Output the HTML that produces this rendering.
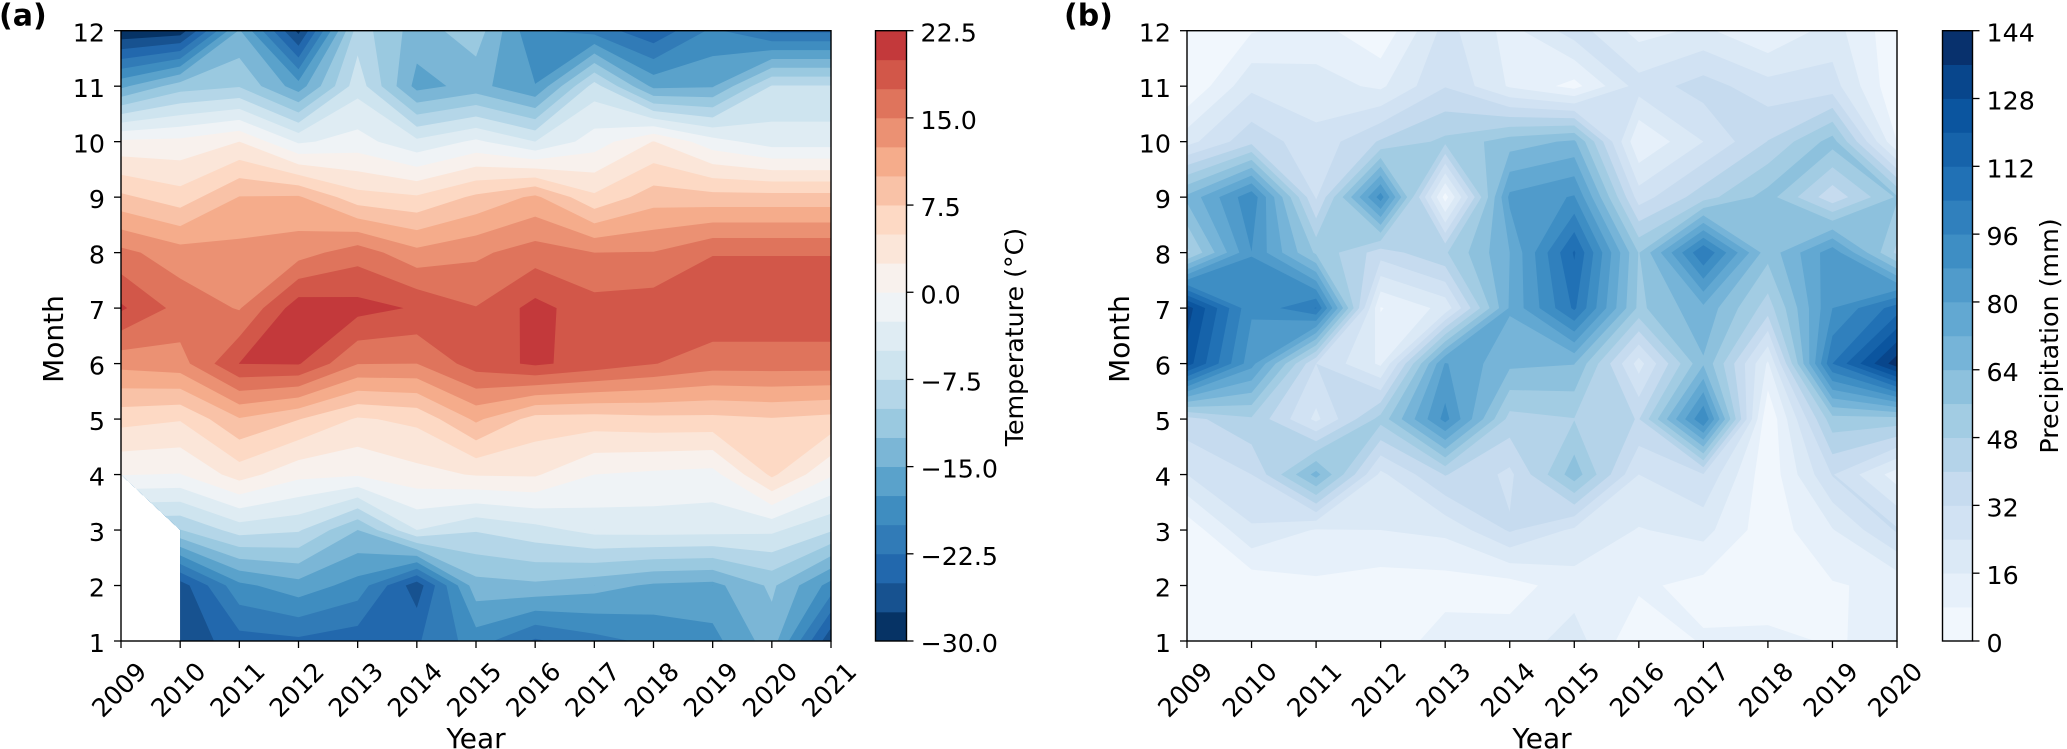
<!DOCTYPE html>
<html lang="en">
<head>
<meta charset="utf-8">
<title>Monthly temperature and precipitation contour maps</title>
<style>
html,body{margin:0;padding:0;background:#fff;}
body{width:2067px;height:749px;overflow:hidden;}
svg{display:block;}
text{font-family:"DejaVu Sans","Liberation Sans",sans-serif;fill:#000;}
.tick{font-size:25.3px;}
.axis-title{font-size:28px;}
.cb-title{font-size:25.3px;}
.panel-tag{font-size:30px;font-weight:bold;}
</style>
</head>
<body>
<svg id="figure" width="2067" height="749" viewBox="0 0 2067 749" xmlns="http://www.w3.org/2000/svg">
  <rect x="0" y="0" width="2067" height="749" fill="#fff"/>
  <g id="panel-a">
    <text class="panel-tag" x="-1" y="25.5">(a)</text>
    <text class="axis-title" transform="translate(63,339) rotate(-90)" text-anchor="middle">Month</text>
    <text class="axis-title" x="476" y="748" text-anchor="middle">Year</text>
    <text class="cb-title" transform="translate(1023,337) rotate(-90)" text-anchor="middle">Temperature (°C)</text>
  </g>
  <g id="panel-b">
    <text class="panel-tag" x="1064" y="25.5">(b)</text>
    <text class="axis-title" transform="translate(1129,339) rotate(-90)" text-anchor="middle">Month</text>
    <text class="axis-title" x="1542" y="748" text-anchor="middle">Year</text>
    <text class="cb-title" transform="translate(2058,336) rotate(-90)" text-anchor="middle">Precipitation (mm)</text>
  </g>
</svg>
<script>
// ---------- shared categories ----------
const months = [1,2,3,4,5,6,7,8,9,10,11,12];
const monthLabels = ['1','2','3','4','5','6','7','8','9','10','11','12'];

// ---------- panel (a): temperature, one array per year, month 1..12 ----------
const tempYears = [2009,2010,2011,2012,2013,2014,2015,2016,2017,2018,2019,2020,2021];
const temp2009 = [null,null,null,0.1,5.9,13.3,20.4,15.7,8.05,0.5,-15.6,-29.7];
const temp2010 = [-27,-26.3,-10.1,-0.1,5.2,14,16.6,13.6,6.05,0.7,-11.2,-29];
const temp2011 = [-23.5,-18.15,-6.4,3.6,9.8,20.05,14.8,13.3,10.1,2.5,-10.2,-14.7];
const temp2012 = [-23,-16,-7.2,0.7,7.6,20.2,21.5,13.9,10.3,-2.9,-16.4,-28.2];
const temp2013 = [-24,-18.5,-12.5,0.3,4.7,15.1,20.9,16.4,6,-1.5,-6,-8.7];
const temp2014 = [-22.8,-26.5,-5,1.7,5.6,15,19.74,13.2,5.3,-4.4,-15.9,-13.7];
const temp2015 = [-18.8,-13.5,-7.3,2.7,10.5,18.7,17.6,14.5,8,-2,-14.1,-11.1];
const temp2016 = [-22.9,-13,-5.9,2.8,6.5,20.45,20.85,16.2,10.5,-5,-17.4,-19.8];
const temp2017 = [-20.9,-14,-4.2,0,6.4,19,18.5,15,5.5,-1.3,-6.4,-21];
const temp2018 = [-19.4,-15.4,-4,-0.5,6.8,17.6,18.9,15.1,8.8,2.6,-15.7,-24.5];
const temp2019 = [-18.3,-15.8,-4.1,-0.9,6.8,16.2,19.5,17.37,8.4,-1.5,-15.25,-19.4];
const temp2020 = [-13.7,-12,-4.5,5.5,7.3,16.2,19.5,17.37,8.4,-3.7,-7.3,-23];
const temp2021 = [-27,-18.5,-7.2,0.3,6.7,16.2,19.5,17.37,8.4,-3.7,-7.3,-23];
const tempColumns = [temp2009,temp2010,temp2011,temp2012,temp2013,temp2014,temp2015,temp2016,temp2017,temp2018,temp2019,temp2020,temp2021];
const tempLevels = [-30,-27.5,-25,-22.5,-20,-17.5,-15,-12.5,-10,-7.5,-5,-2.5,0,2.5,5,7.5,10,12.5,15,17.5,20,22.5];
const tempTicks = [-30,-22.5,-15,-7.5,0,7.5,15,22.5];
const tempTickLabels = ['\u221230.0','\u221222.5','\u221215.0','\u22127.5','0.0','7.5','15.0','22.5'];

// ---------- panel (b): precipitation, one array per year, month 1..12 ----------
const precYears = [2009,2010,2011,2012,2013,2014,2015,2016,2017,2018,2019,2020];
const prec2009 = [1,1,2.5,24,37,124,132,46,66,21,0,0];
const prec2010 = [2,2,22.9,32,46.8,83,89.3,87.9,94,37.5,22.2,7.3];
const prec2011 = [3,6.5,15.4,67,22,32,104.5,54.5,31,26.5,19.3,11];
const prec2012 = [2,4,16,22,51,14.5,7.5,36,92,41,14.5,1.5];
const prec2013 = [12,4.3,18,40.5,91,80.7,18.5,47,4.5,50,31.6,27];
const prec2014 = [11.3,4.5,33,30,45,66,73,72,82,60,15,13];
const prec2015 = [19.6,12.5,22.5,60.7,47.7,64.3,105.5,113,88.8,65.5,5.2,28];
const prec2016 = [1.5,9.5,15.5,24,39.5,20.5,54,55.5,28,8.5,27.5,13];
const prec2017 = [8.8,5.4,18.8,31.5,96,63,70,104,44.4,24,35.5,17.7];
const prec2018 = [10.4,2,3,2,0.5,14.8,44,59,59.5,40.3,27.1,8.5];
const prec2019 = [7.1,7.3,15.5,32.5,53,104,88,85,34.5,59.5,27.5,19.5];
const prec2020 = [11,10,33,12,53,141,108,46,57,8,1,2];
const precColumns = [prec2009,prec2010,prec2011,prec2012,prec2013,prec2014,prec2015,prec2016,prec2017,prec2018,prec2019,prec2020];
const precLevels = [0,8,16,24,32,40,48,56,64,72,80,88,96,104,112,120,128,136,144];
const precTicks = [0,16,32,48,64,80,96,112,128,144];
const precTickLabels = ['0','16','32','48','64','80','96','112','128','144'];

// ---------- colour maps ----------
const rdBuR = ['#053061','#2166ac','#4393c3','#92c5de','#d1e5f0','#f7f7f7','#fddbc7','#f4a582','#d6604d','#b2182b','#67001f'];
const blues = ['#f7fbff','#deebf7','#c6dbef','#9ecae1','#6baed6','#4292c6','#2171b5','#08519c','#08306b'];

function sampleMap(stops, t) {
  const p = Math.max(0, Math.min(1, t)) * (stops.length - 1);
  const i = Math.min(stops.length - 2, Math.floor(p));
  const f = p - i;
  const ch = (hex, k) => parseInt(hex.substr(1 + 2 * k, 2), 16);
  const out = [0, 1, 2].map(k => Math.round(ch(stops[i], k) * (1 - f) + ch(stops[i + 1], k) * f));
  return 'rgb(' + out.join(',') + ')';
}

function linearScale(d0, d1, r0, r1) {
  return v => r0 + (v - d0) / (d1 - d0) * (r1 - r0);
}

// keep the part of a cell polygon where value >= level (edge crossings joined by straight chords)
function clipAbove(poly, level) {
  const out = [];
  for (let i = 0; i < poly.length; i++) {
    const a = poly[i];
    const b = poly[(i + 1) % poly.length];
    const aIn = a.v >= level;
    const bIn = b.v >= level;
    if (aIn) out.push(a);
    if (aIn !== bIn) {
      const f = (level - a.v) / (b.v - a.v);
      out.push({x: a.x + (b.x - a.x) * f, y: a.y + (b.y - a.y) * f, v: level});
    }
  }
  return out;
}

function cellPolygon(columns, xs, ys, c, r) {
  const corners = [[c, r], [c + 1, r], [c + 1, r + 1], [c, r + 1]];
  const pts = [];
  corners.forEach(function (k) {
    const v = columns[k[0]][k[1]];
    if (v !== null) pts.push({x: xs(k[0]), y: ys(months[k[1]]), v: v});
  });
  return pts.length >= 3 ? pts : null;
}

function levelPath(columns, xs, ys, level) {
  let d = '';
  for (let c = 0; c < columns.length - 1; c++) {
    for (let r = 0; r < months.length - 1; r++) {
      const cell = cellPolygon(columns, xs, ys, c, r);
      if (!cell) continue;
      const poly = clipAbove(cell, level);
      if (poly.length < 3) continue;
      d += 'M' + poly.map(p => p.x.toFixed(2) + ' ' + p.y.toFixed(2)).join('L') + 'Z';
    }
  }
  return d;
}

const SVG_NS = 'http://www.w3.org/2000/svg';

function drawLine(parent, x1, y1, x2, y2, name) {
  const el = document.createElementNS(SVG_NS, 'line');
  el.setAttribute('x1', x1);
  el.setAttribute('y1', y1);
  el.setAttribute('x2', x2);
  el.setAttribute('y2', y2);
  el.setAttribute('stroke', '#000');
  el.setAttribute('stroke-width', '1.3');
  
  
  parent.appendChild(el);
}

function drawLabel(parent, x, y, str, anchor, name, transform) {
  const el = document.createElementNS(SVG_NS, 'text');
  el.setAttribute('class', 'tick');
  el.setAttribute('text-anchor', anchor);
  if (transform) {
    el.setAttribute('transform', transform);
  } else {
    el.setAttribute('x', x);
    el.setAttribute('y', y);
  }
  
  
  el.textContent = str;
  parent.appendChild(el);
}

function drawFrame(parent, x, y, w, h, name) {
  const el = document.createElementNS(SVG_NS, 'rect');
  el.setAttribute('x', x);
  el.setAttribute('y', y);
  el.setAttribute('width', w);
  el.setAttribute('height', h);
  el.setAttribute('fill', 'none');
  el.setAttribute('stroke', '#000');
  el.setAttribute('stroke-width', '1.4');
  
  
  parent.appendChild(el);
}

function drawPanel(cfg) {
  const g = document.getElementById(cfg.group);
  const xs = linearScale(0, cfg.years.length - 1, cfg.left, cfg.right);
  const ys = linearScale(months[0], months[months.length - 1], cfg.bottom, cfg.top);
  const cbY = linearScale(cfg.levels[0], cfg.levels[cfg.levels.length - 1], cfg.bottom, cfg.top);

  // filled contours: each level paints everything at or above it
  for (let i = 0; i < cfg.levels.length - 1; i++) {
    const mid = (cfg.levels[i] + cfg.levels[i + 1]) / 2;
    const band = document.createElementNS(SVG_NS, 'path');
    band.setAttribute('d', levelPath(cfg.columns, xs, ys, cfg.levels[i]));
    band.setAttribute('fill', cfg.color(mid));
    
    
    g.appendChild(band);

    const swatch = document.createElementNS(SVG_NS, 'rect');
    swatch.setAttribute('x', cfg.cbLeft);
    swatch.setAttribute('y', cbY(cfg.levels[i + 1]));
    swatch.setAttribute('width', cfg.cbRight - cfg.cbLeft);
    swatch.setAttribute('height', cbY(cfg.levels[i]) - cbY(cfg.levels[i + 1]) + 0.4);
    swatch.setAttribute('fill', cfg.color(mid));
    
    
    g.appendChild(swatch);
  }

  drawFrame(g, cfg.left, cfg.top, cfg.right - cfg.left, cfg.bottom - cfg.top, 'plot-frame');
  drawFrame(g, cfg.cbLeft, cfg.top, cfg.cbRight - cfg.cbLeft, cfg.bottom - cfg.top, 'colorbar-frame');

  months.forEach(function (m, i) {
    const y = ys(m);
    drawLine(g, cfg.left - 7, y, cfg.left, y, 'y-tick');
    drawLabel(g, cfg.left - 16, y + 11, monthLabels[i], 'end', 'y-tick-label');
  });

  cfg.years.forEach(function (yr, i) {
    const x = xs(i);
    drawLine(g, x, cfg.bottom, x, cfg.bottom + 7, 'x-tick');
    const t = 'translate(' + (x - 2) + ',689.5) rotate(-45) translate(0,9)';
    drawLabel(g, 0, 0, String(yr), 'middle', 'x-tick-label', t);
  });

  cfg.ticks.forEach(function (tk, i) {
    const y = cbY(tk);
    drawLine(g, cfg.cbRight, y, cfg.cbRight + 7, y, 'colorbar-tick');
    drawLabel(g, cfg.cbRight + 14, y + 11, cfg.tickLabels[i], 'start', 'colorbar-tick-label');
  });
}

drawPanel({
  group: 'panel-a',
  years: tempYears,
  columns: tempColumns,
  levels: tempLevels,
  ticks: tempTicks,
  tickLabels: tempTickLabels,
  color: v => sampleMap(rdBuR, v < -27.5 ? 0.005 : (v + 30) / 60),
  left: 121, right: 831, top: 30.7, bottom: 641,
  cbLeft: 875.5, cbRight: 906.5
});

drawPanel({
  group: 'panel-b',
  years: precYears,
  columns: precColumns,
  levels: precLevels,
  ticks: precTicks,
  tickLabels: precTickLabels,
  color: v => sampleMap(blues, v > 136 ? 0.995 : v / 144),
  left: 1187, right: 1897, top: 30.7, bottom: 641,
  cbLeft: 1942.5, cbRight: 1972.5
});
</script>
</body>
</html>
